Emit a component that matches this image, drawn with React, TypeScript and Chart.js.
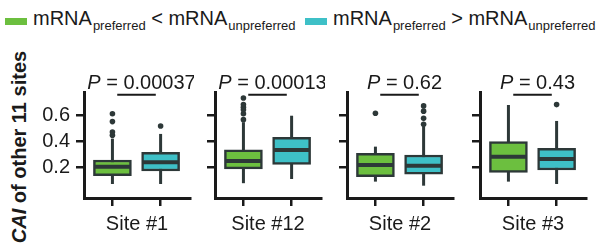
import React, { useEffect, useRef } from 'react';
import { Chart, registerables } from 'chart.js';

Chart.register(...registerables);

const FONT = "'Liberation Sans', Arial, Helvetica, sans-serif";
const GREEN = '#6cbf3f';
const TEAL = '#3ec0c7';
const DARK = '#2d3838';
const INK = '#1a1a1a';

// ---- data ----
const sites = ['Site #1', 'Site #12', 'Site #2', 'Site #3'];
const pValues = ['0.00037', '0.00013', '0.62', '0.43'];
const yTicks = [0.2, 0.4, 0.6];

const greenLow = [0.074, 0.08, 0.092, 0.092];
const greenQ1 = [0.137, 0.189, 0.13, 0.163];
const greenMedian = [0.206, 0.25, 0.219, 0.282];
const greenQ3 = [0.257, 0.334, 0.308, 0.397];
const greenHigh = [0.42, 0.545, 0.359, 0.677];
const greenOutliers = [
  [0.445, 0.47, 0.55, 0.61],
  [0.565, 0.61, 0.64, 0.66, 0.68, 0.73],
  [0.614],
  [],
];

const tealLow = [0.074, 0.112, 0.061, 0.074];
const tealQ1 = [0.173, 0.224, 0.148, 0.181];
const tealMedian = [0.24, 0.334, 0.214, 0.265];
const tealQ3 = [0.316, 0.43, 0.295, 0.347];
const tealHigh = [0.456, 0.595, 0.51, 0.555];
const tealOutliers = [[0.517], [], [0.53, 0.575, 0.63, 0.67], [0.68]];

// ---- layout (not data) ----
const AXIS_X = [84, 215, 347, 480];
const Y_AXIS_W = 50;
const PLOT_W = 106;
const RIGHT_PAD = 4;
const CANVAS_W = Y_AXIS_W + PLOT_W + RIGHT_PAD;
const CANVAS_H = 252;

const boxPlugin = {
  id: 'boxParts',
  beforeDatasetsDraw(chart: any) {
    const idx = chart.options.plugins.boxParts.index;
    const xs = chart.scales.x;
    const ys = chart.scales.y;
    const ctx = chart.ctx;
    const lows = [greenLow[idx], tealLow[idx]];
    const highs = [greenHigh[idx], tealHigh[idx]];
    ctx.save();
    ctx.strokeStyle = DARK;
    ctx.lineWidth = 3;
    for (let j = 0; j < 2; j++) {
      const x = xs.getPixelForValue(j);
      ctx.beginPath();
      ctx.moveTo(x, ys.getPixelForValue(lows[j]));
      ctx.lineTo(x, ys.getPixelForValue(highs[j]));
      ctx.stroke();
    }
    ctx.restore();
  },
  afterDatasetsDraw(chart: any) {
    const idx = chart.options.plugins.boxParts.index;
    const ys = chart.scales.y;
    const ctx = chart.ctx;
    const meds = [greenMedian[idx], tealMedian[idx]];
    const meta = chart.getDatasetMeta(0);
    ctx.save();
    ctx.strokeStyle = DARK;
    ctx.lineWidth = 4;
    for (let j = 0; j < 2; j++) {
      const el: any = meta.data[j];
      const y = ys.getPixelForValue(meds[j]);
      ctx.beginPath();
      ctx.moveTo(el.x - el.width / 2 + 1, y);
      ctx.lineTo(el.x + el.width / 2 - 1, y);
      ctx.stroke();
    }
    ctx.restore();
  },
  afterDraw(chart: any) {
    const idx = chart.options.plugins.boxParts.index;
    const xs = chart.scales.x;
    const ys = chart.scales.y;
    const ctx = chart.ctx;
    const x0 = xs.getPixelForValue(0);
    const x1 = xs.getPixelForValue(1);
    // significance bar
    const ly = ys.getPixelForValue(0.755);
    ctx.save();
    ctx.strokeStyle = INK;
    ctx.lineWidth = 2;
    ctx.beginPath();
    ctx.moveTo(xs.getPixelForValue(0.1), ly);
    ctx.lineTo(xs.getPixelForValue(0.9), ly);
    ctx.stroke();
    // P text
    ctx.fillStyle = INK;
    ctx.textBaseline = 'alphabetic';
    ctx.textAlign = 'left';
    const italic = `italic 20px ${FONT}`;
    const normal = `20px ${FONT}`;
    ctx.font = italic;
    const wP = ctx.measureText('P').width;
    const rest = ' = ' + pValues[idx];
    ctx.font = normal;
    const wR = ctx.measureText(rest).width;
    const cx = (x0 + x1) / 2 + 5;
    const start = cx - (wP + wR) / 2;
    const by = chart.chartArea.top - 3;
    ctx.font = italic;
    ctx.fillText('P', start, by);
    ctx.font = normal;
    ctx.fillText(rest, start + wP, by);
    ctx.restore();
  },
};

function Panel({ index }: { index: number }) {
  const ref = useRef<HTMLCanvasElement | null>(null);
  useEffect(() => {
    if (!ref.current) return;
    const axisCommon = {
      grid: {
        display: true,
        drawOnChartArea: false,
        drawTicks: true,
        tickLength: 8,
        lineWidth: 2.5,
        color: INK,
        offset: false,
      },
      border: { display: true, width: 3, color: INK },
    };
    const chart = new Chart(ref.current, {
      type: 'bar',
      data: {
        datasets: [
          {
            type: 'bar',
            data: [
              { x: 0, y: [greenQ1[index], greenQ3[index]] },
              { x: 1, y: [tealQ1[index], tealQ3[index]] },
            ],
            backgroundColor: [GREEN, TEAL],
            borderColor: DARK,
            borderWidth: 2.5,
            borderSkipped: false,
            barThickness: 38,
            order: 2,
          } as any,
          {
            type: 'scatter',
            data: [
              ...greenOutliers[index].map((v) => ({ x: 0, y: v })),
              ...tealOutliers[index].map((v) => ({ x: 1, y: v })),
            ],
            pointRadius: 2.8,
            pointBackgroundColor: DARK,
            pointBorderWidth: 0,
            order: 1,
          } as any,
        ],
      },
      options: {
        responsive: false,
        maintainAspectRatio: false,
        animation: false,
        layout: { padding: { top: 92, left: 0, right: RIGHT_PAD, bottom: 0 } },
        plugins: {
          legend: { display: false },
          tooltip: { enabled: false },
          boxParts: { index },
        } as any,
        scales: {
          x: {
            type: 'linear',
            min: -0.59,
            max: 1.61,
            offset: false,
            afterBuildTicks: (s: any) => {
              s.ticks = [{ value: 0 }, { value: 1 }];
            },
            afterFit: (s: any) => {
              s.height = 54;
            },
            ...axisCommon,
            ticks: { callback: () => '', padding: 0 },
            title: {
              display: true,
              text: sites[index],
              font: { size: 20, family: FONT },
              color: INK,
              padding: { top: 0, bottom: 16 },
            },
          } as any,
          y: {
            type: 'linear',
            min: -0.033,
            max: 0.776,
            afterBuildTicks: (s: any) => {
              s.ticks = yTicks.map((v) => ({ value: v }));
            },
            afterFit: (s: any) => {
              s.width = Y_AXIS_W;
            },
            ...axisCommon,
            ticks: {
              callback: (v: any) => (index === 0 ? Number(v).toFixed(1) : ''),
              font: { size: 20, family: FONT },
              color: INK,
              padding: 6,
            },
          } as any,
        },
      },
      plugins: [boxPlugin as any],
    });
    return () => chart.destroy();
  }, [index]);
  return (
    <canvas
      ref={ref}
      width={CANVAS_W}
      height={CANVAS_H}
      style={{
        position: 'absolute',
        left: AXIS_X[index] - Y_AXIS_W,
        top: 0,
        width: CANVAS_W,
        height: CANVAS_H,
      }}
    />
  );
}

function LegendItem({ left, color, sign }: { left: number; color: string; sign: string }) {
  return (
    <>
      <div
        style={{
          position: 'absolute',
          left,
          top: 18,
          width: 22,
          height: 7,
          background: color,
        }}
      />
      <div
        style={{
          position: 'absolute',
          left: left + 28,
          top: 8,
          fontSize: 20,
          lineHeight: '20px',
          whiteSpace: 'nowrap',
          color: INK,
        }}
      >
        mRNA
        <span style={{ fontSize: 13, verticalAlign: '-5px', marginLeft: 1 }}>preferred</span>
        {' ' + sign + ' '}mRNA
        <span style={{ fontSize: 13, verticalAlign: '-5px', marginLeft: 1 }}>unpreferred</span>
      </div>
    </>
  );
}

export default function App() {
  return (
    <div
      style={{
        position: 'absolute',
        left: 0,
        top: 0,
        width: 600,
        height: 252,
        background: '#fff',
        fontFamily: FONT,
        overflow: 'hidden',
      }}
    >
      <LegendItem left={5} color={GREEN} sign="<" />
      <LegendItem left={305} color={TEAL} sign=">" />
      <div
        style={{
          position: 'absolute',
          left: 19,
          top: 147,
          transform: 'translate(-50%, -50%) rotate(-90deg)',
          fontSize: 20,
          fontWeight: 'bold',
          lineHeight: '20px',
          whiteSpace: 'nowrap',
          color: INK,
        }}
      >
        <i>CAI</i> of other 11 sites
      </div>
      {sites.map((_, i) => (
        <Panel key={i} index={i} />
      ))}
    </div>
  );
}
